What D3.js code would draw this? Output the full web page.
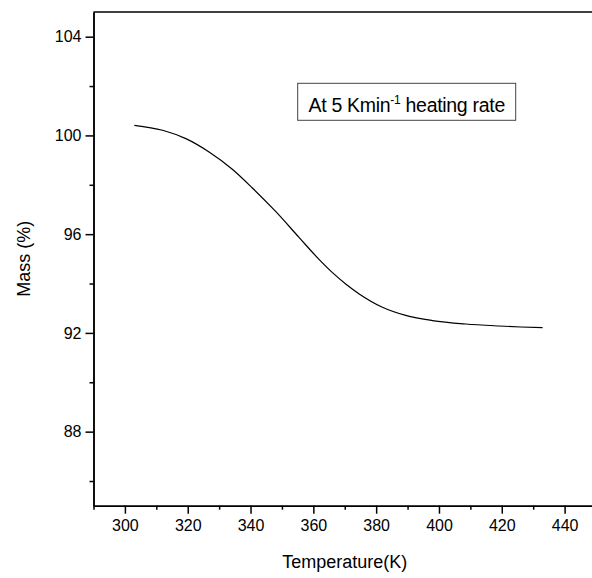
<!DOCTYPE html>
<html lang="en">
<head>
    <meta charset="UTF-8">
    <title>Mass vs Temperature</title>
    <script src="https://cdnjs.cloudflare.com/ajax/libs/d3/7.8.5/d3.min.js"></script>
    <style>
        body {
            margin: 0;
            overflow: hidden;
            background: #fff;
            font-family: 'Liberation Sans', Arial, sans-serif;
        }
        svg {
            display: block;
        }
        .axis path, .axis line {
            stroke: #000;
            stroke-width: 1.5px;
        }
        .axis text {
            font-size: 16px;
            fill: #000;
            font-family: 'Liberation Sans', Arial, sans-serif;
        }
        .curve {
            fill: none;
            stroke: #000;
            stroke-width: 1.2px;
        }
    </style>
</head>
<body>
<svg id="chart" width="592" height="578"></svg>
<script>
    // TGA curve
    const temperature = [303.0, 312.0, 319.4, 326.8, 334.2, 340.6, 348.0, 355.5, 361.8, 366.1, 370.5, 374.6, 382.0, 389.4, 397.9, 408.5, 419.1, 426.0, 433.0];
    const mass = [100.41, 100.21, 99.87, 99.33, 98.63, 97.87, 96.92, 95.86, 94.98, 94.44, 93.96, 93.58, 93.04, 92.71, 92.50, 92.36, 92.28, 92.24, 92.21];

    const xMajor = [300, 320, 340, 360, 380, 400, 420, 440];
    const xMinor = [290, 310, 330, 350, 370, 390, 410, 430, 450];
    const yMajor = [88, 92, 96, 100, 104];
    const yMinor = [86, 90, 94, 98, 102];

    const svg = d3.select("#chart");
    const margin = {left: 93.5, top: 12, right: 596, bottom: 505.7};

    const x = d3.scaleLinear().domain([290, 450]).range([margin.left, margin.right]);
    const y = d3.scaleLinear().domain([85, 105]).range([margin.bottom, margin.top]);

    // top frame line
    svg.append("line")
        .attr("x1", margin.left).attr("x2", margin.right)
        .attr("y1", margin.top).attr("y2", margin.top)
        .attr("stroke", "#000").attr("stroke-width", 1.5);

    // x axis, minor then major
    svg.append("g").attr("class", "axis")
        .attr("transform", `translate(0,${margin.bottom})`)
        .call(d3.axisBottom(x).tickValues(xMinor).tickSize(4).tickSizeOuter(0).tickFormat(""));
    svg.append("g").attr("class", "axis")
        .attr("transform", `translate(0,${margin.bottom})`)
        .call(d3.axisBottom(x).tickValues(xMajor).tickSize(8).tickSizeOuter(0).tickPadding(6).tickFormat(d3.format("d")));

    // y axis
    svg.append("g").attr("class", "axis")
        .attr("transform", `translate(${margin.left},0)`)
        .call(d3.axisLeft(y).tickValues(yMinor).tickSize(4).tickSizeOuter(0).tickFormat(""));
    svg.append("g").attr("class", "axis")
        .attr("transform", `translate(${margin.left},0)`)
        .call(d3.axisLeft(y).tickValues(yMajor).tickSize(8).tickSizeOuter(0).tickPadding(4).tickFormat(d3.format("d")));

    // the curve
    const line = d3.line()
        .x((d, i) => x(temperature[i]))
        .y(d => y(d))
        .curve(d3.curveMonotoneX);

    svg.append("path")
        .datum(mass)
        .attr("class", "curve")
        .attr("d", line);

    // axis titles
    svg.append("text")
        .attr("x", (margin.left + margin.right) / 2)
        .attr("y", 568)
        .attr("text-anchor", "middle")
        .attr("font-size", 18)
        .text("Temperature(K)");

    svg.append("text")
        .attr("transform", `translate(30,${(margin.top + margin.bottom) / 2}) rotate(-90)`)
        .attr("text-anchor", "middle")
        .attr("font-size", 18)
        .text("Mass (%)");

    // annotation box
    svg.append("rect")
        .attr("x", 297.7).attr("y", 83.3)
        .attr("width", 218).attr("height", 37)
        .attr("fill", "#fff")
        .attr("stroke", "#444").attr("stroke-width", 1);

    const note = svg.append("text")
        .attr("x", 308.5).attr("y", 111.7)
        .attr("font-size", 19.5)
        .attr("letter-spacing", -0.3);
    note.append("tspan").text("At 5 Kmin");
    note.append("tspan").attr("dy", -8).attr("font-size", 12).text("-1");
    note.append("tspan").attr("dy", 8).text(" heating rate");
</script>
</body>
</html>
